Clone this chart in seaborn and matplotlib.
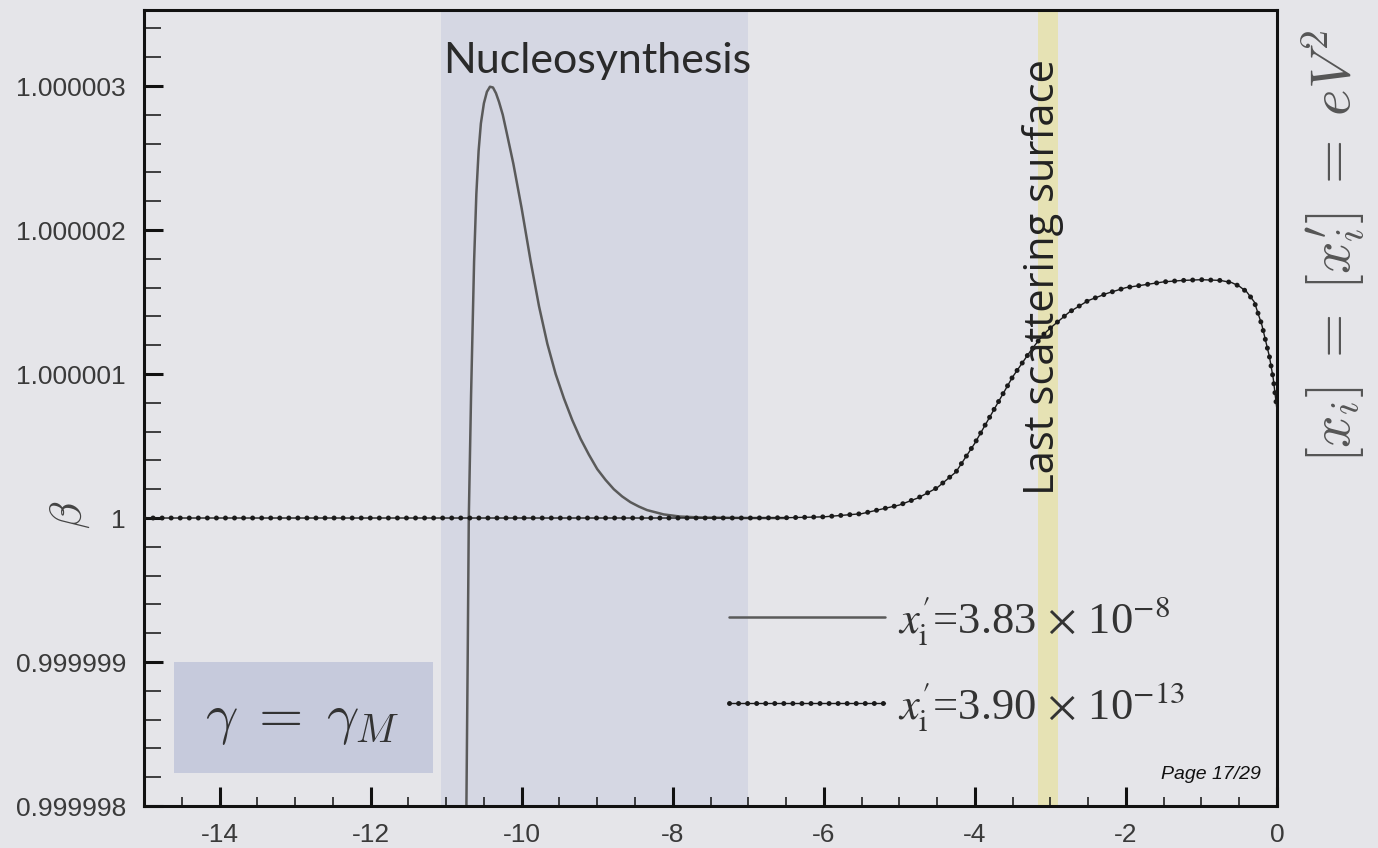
import matplotlib
matplotlib.use("Agg")
import matplotlib.pyplot as plt
import seaborn as sns
import pandas as pd
from matplotlib.ticker import MultipleLocator, FuncFormatter
from matplotlib.patches import Rectangle
from matplotlib.legend_handler import HandlerTuple

# ---- data (x = ln a, beta deviation from 1 in units of 1e-6) ----
x_dotted = [-15, -14, -13, -12, -11, -10, -9, -8, -7, -6.5, -6.0, -5.5, -5.0, -4.75,
            -4.5, -4.25, -4.0, -3.75, -3.5, -3.25, -3.1, -3.0, -2.75, -2.5, -2.25,
            -2.0, -1.75, -1.5, -1.25, -1.0, -0.75, -0.6, -0.5, -0.4, -0.3, -0.2,
            -0.1, -0.05, 0.0]
dbeta_dotted = [0, 0, 0, 0, 0, 0, 0, 0, 0, 0.002, 0.008, 0.03, 0.09, 0.14,
                0.21, 0.32, 0.52, 0.75, 0.98, 1.17, 1.27, 1.32, 1.43, 1.51, 1.56,
                1.60, 1.62, 1.64, 1.65, 1.655, 1.65, 1.635, 1.61, 1.57, 1.50, 1.34,
                1.12, 0.97, 0.75]

x_solid = [-10.78, -10.735, -10.715, -10.70, -10.67, -10.63, -10.60, -10.57, -10.54,
           -10.50, -10.46, -10.42, -10.38, -10.34, -10.30, -10.25, -10.20, -10.11,
           -10.0, -9.88, -9.77, -9.66, -9.55, -9.44, -9.33, -9.22, -9.11, -9.0,
           -8.89, -8.78, -8.67, -8.56, -8.45, -8.34, -8.12, -7.9, -7.6, -7.0, -6.5]
dbeta_solid = [-5.0, -2.2, -1.0, 0.0, 0.85, 1.78, 2.25, 2.55, 2.74,
               2.88, 2.96, 2.995, 2.99, 2.95, 2.89, 2.80, 2.68, 2.46,
               2.15, 1.78, 1.47, 1.21, 1.0, 0.83, 0.68, 0.55, 0.44, 0.34,
               0.265, 0.2, 0.15, 0.11, 0.08, 0.055, 0.025, 0.01, 0.003, 0.0, 0.0]

label_solid = r"$x^{\prime}_{\mathrm{i}}$=3.83$\,\times\,$10$^{-8}$"
label_dotted = r"$x^{\prime}_{\mathrm{i}}$=3.90$\,\times\,$10$^{-13}$"
ytick_values = [-2, -1, 0, 1, 2, 3]

nucleo_band = (-11.07, -7.0)
lss_band = (-3.16, -2.90)

BG = "#e5e5e9"
NUC = "#d5d7e3"
BOX = "#c6cadc"
YEL = "#e6e2b4"

sns.set_style("ticks")
plt.rcParams["font.family"] = ["Liberation Sans", "DejaVu Sans"]

fig = plt.figure(figsize=(13.78, 8.48), dpi=100)
fig.patch.set_facecolor(BG)
ax = fig.add_axes([144 / 1378, 1 - 806 / 848, (1277 - 144) / 1378, (806 - 10) / 848])
ax.set_facecolor(BG)

ax.axvspan(*nucleo_band, color=NUC, lw=0, zorder=0)
ax.axvspan(*lss_band, color=YEL, lw=0, zorder=0.5)
ax.add_patch(Rectangle((-14.60, -1.77), 3.42, 0.77, facecolor=BOX, lw=0, zorder=0.6))

df_s = pd.DataFrame({"x": x_solid, "b": dbeta_solid})
df_d = pd.DataFrame({"x": x_dotted, "b": dbeta_dotted})

sns.lineplot(data=df_s, x="x", y="b", ax=ax, color="#5a5a5a", lw=1.8, zorder=2,
             estimator=None, sort=False)
sns.lineplot(data=df_d, x="x", y="b", ax=ax, color="#1a1a1a", lw=1.0, zorder=3,
             estimator=None, sort=False)
sns.lineplot(data=df_d, x="x", y="b", ax=ax, color="#1a1a1a", lw=3.6, zorder=4,
             estimator=None, sort=False, linestyle=(0, (0.01, 1.8)),
             dash_capstyle="round")

ax.set_xlim(-15, 0)
ax.set_ylim(-2.0, 3.528)
ax.set_xlabel("")
ax.set_ylabel("")

ax.xaxis.set_major_locator(MultipleLocator(2))
ax.xaxis.set_minor_locator(MultipleLocator(0.5))
ax.set_yticks(ytick_values)
ax.yaxis.set_minor_locator(MultipleLocator(0.2))
ax.yaxis.set_major_formatter(FuncFormatter(
    lambda v, p: "1" if abs(v) < 1e-9 else f"{1 + v * 1e-6:.6f}"))
ax.xaxis.set_major_formatter(FuncFormatter(lambda v, p: "0" if abs(v) < 1e-9 else f"{v:.0f}"))

for s in ax.spines.values():
    s.set_linewidth(2.2)
    s.set_color("#111111")
ax.tick_params(axis="both", which="major", direction="in", length=14, width=2.2,
               labelsize=19, labelcolor="#3a3a3a", color="#111111")
ax.tick_params(axis="y", which="major", pad=13)
ax.tick_params(axis="x", which="major", pad=12)
ax.tick_params(axis="y", which="minor", direction="in", length=12, width=1.1, color="#111111")
ax.tick_params(axis="x", which="minor", direction="in", length=6.5, width=1.1, color="#111111")

# annotations
ax.text(-11.04, 3.09, "Nucleosynthesis", fontsize=31, family="Lato", color="#2a2a2a",
        ha="left", va="baseline", zorder=5)
ax.text(-2.954, 0.16, "Last scattering surface", fontsize=30, family="Open Sans",
        color="#222222", rotation=90, rotation_mode="anchor", ha="left",
        va="baseline", zorder=5)
ax.text(-12.90, -1.40, r"$\gamma\;=\;\gamma_M$", fontsize=41, math_fontfamily="cm",
        color="#333333", ha="center", va="center", zorder=5)
ax.text(-0.21, -1.78, "Page 17/29", fontsize=14, style="italic", color="#111111",
        ha="right", va="center", zorder=5)

fig.text(70 / 1378, 1 - 515 / 848, r"$\beta$", fontsize=32, math_fontfamily="cm",
         rotation=90, color="#444444", ha="center", va="center")
fig.text(1333 / 1378, 1 - 246 / 848, r"$[x_i]\;=\;[x_i^{\prime}]\;=\;eV^2$", fontsize=41,
         math_fontfamily="cm", rotation=90, color="#555555", ha="center", va="center")

lines = ax.get_lines()
leg = ax.legend(handles=[lines[0], (lines[1], lines[2])], labels=[label_solid, label_dotted],
                handler_map={tuple: HandlerTuple(ndivide=1)},
                loc="upper left", bbox_to_anchor=((729 - 144) / 1133, (806 - 594) / 796),
                frameon=False, borderpad=0, borderaxespad=0, handlelength=3.5,
                handletextpad=0.3, labelspacing=0.74,
                prop={"family": "Liberation Serif", "size": 32, "math_fontfamily": "stix"})
for t in leg.get_texts():
    t.set_color("#333333")
leg.set_zorder(6)

fig.savefig("out.png", dpi=100, facecolor=BG)
